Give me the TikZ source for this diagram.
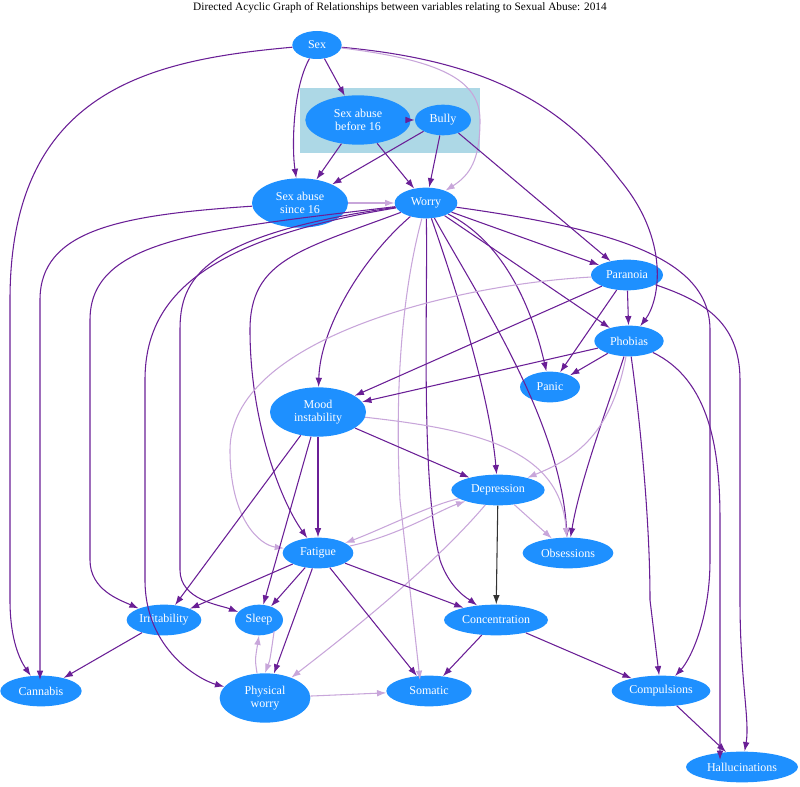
\documentclass[tikz,border=0pt]{standalone}
\usepackage{fontspec}
\setmainfont{Liberation Serif}
\usetikzlibrary{shapes.geometric,arrows.meta}
\definecolor{nd}{HTML}{1E90FF}
\definecolor{dk}{HTML}{6A1F96}
\definecolor{lt}{HTML}{C8A6DA}
\definecolor{cl}{HTML}{ADD8E6}
\tikzset{
 n/.style={ellipse,fill=nd,text=white,font=\fontsize{9}{10}\selectfont,align=center,inner sep=1pt},
 e/.style={draw=dk,thick,-{Latex[length=7pt,width=5pt]}},
 l/.style={draw=lt,thick,-{Latex[length=7pt,width=5pt]}},
}
\begin{document}
\begin{tikzpicture}[x=0.75pt,y=-0.75pt]
\useasboundingbox (0,0) rectangle (800,787);
\fill[cl] (300,88) rectangle (480,153);
\node[font=\fontsize{8.5}{9}\selectfont] (title) at (400,8) {Directed Acyclic Graph of Relationships between variables relating to Sexual Abuse: 2014};
\node[n,minimum width=37pt,minimum height=21pt] (sex) at (317,45) {Sex};
\node[n,minimum width=79pt,minimum height=37pt] (sa16) at (358,120) {Sex abuse\\before 16};
\node[n,minimum width=42pt,minimum height=23pt] (bully) at (443,120) {Bully};
\node[n,minimum width=72pt,minimum height=37pt] (sas16) at (300,203) {Sex abuse\\since 16};
\node[n,minimum width=47pt,minimum height=23pt] (worry) at (426,203) {Worry};
\node[n,minimum width=54pt,minimum height=23pt] (par) at (627,275) {Paranoia};
\node[n,minimum width=52pt,minimum height=23pt] (pho) at (629,341) {Phobias};
\node[n,minimum width=72pt,minimum height=37pt] (mood) at (318,412) {Mood\\instability};
\node[n,minimum width=45pt,minimum height=23pt] (panic) at (550,387) {Panic};
\node[n,minimum width=70pt,minimum height=23pt] (dep) at (498,490) {Depression};
\node[n,minimum width=53pt,minimum height=23pt] (fat) at (318,553) {Fatigue};
\node[n,minimum width=68pt,minimum height=23pt] (obs) at (568,553) {Obsessions};
\node[n,minimum width=56pt,minimum height=23pt] (irr) at (164,620) {Irritability};
\node[n,minimum width=36pt,minimum height=23pt] (sleep) at (259,620) {Sleep};
\node[n,minimum width=78pt,minimum height=23pt] (conc) at (496,620) {Concentration};
\node[n,minimum width=61pt,minimum height=23pt] (can) at (41,691) {Cannabis};
\node[n,minimum width=68pt,minimum height=37pt] (pw) at (265,698) {Physical\\worry};
\node[n,minimum width=64pt,minimum height=23pt] (som) at (429,691) {Somatic};
\node[n,minimum width=74pt,minimum height=23pt] (comp) at (661,691) {Compulsions};
\node[n,minimum width=84pt,minimum height=23pt] (hal) at (742,767) {Hallucinations};

\draw[e] (sex) -- (sa16);
\draw[e] (sex) .. controls (292,90) and (292,150) .. (sas16);
\draw[e] (sex) .. controls (150,60) and (10,90) .. (10,300) -- (10,600) .. controls (10,640) and (20,660) .. (can);
\draw[e] (sex) .. controls (480,60) and (560,100) .. (620,180) .. controls (670,240) and (660,300) .. (pho);
\draw[l] (sex) .. controls (440,60) and (480,80) .. (480,120) .. controls (480,160) and (470,175) .. (worry);
\draw[e] (sa16) -- (bully);
\draw[e] (sa16) -- (sas16);
\draw[e] (sa16) -- (worry);
\draw[e] (bully) -- (sas16);
\draw[e] (bully) -- (worry);
\draw[e] (bully) -- (par);
\draw[l] (sas16) -- (worry);
\draw[e] (sas16) .. controls (120,215) and (40,230) .. (40,300) -- (40,680);
\draw[e] (worry) -- (par);
\draw[e] (worry) -- (pho);
\draw[e] (worry) .. controls (360,260) and (320,330) .. (mood);
\draw[e] (worry) .. controls (500,240) and (530,300) .. (panic);
\draw[e] (worry) .. controls (460,300) and (490,400) .. (dep);
\draw[e] (worry) .. controls (480,300) and (560,420) .. (obs);
\draw[e] (worry) .. controls (300,250) and (250,260) .. (250,330) .. controls (250,420) and (280,500) .. (fat);
\draw[e] (worry) .. controls (200,230) and (90,240) .. (90,320) -- (90,560) .. controls (90,590) and (120,600) .. (irr);
\draw[e] (worry) .. controls (200,235) and (180,280) .. (180,330) -- (180,570) .. controls (180,600) and (220,605) .. (sleep);
\draw[e] (worry) .. controls (200,240) and (145,300) .. (145,380) -- (145,580) .. controls (145,650) and (200,680) .. (pw);
\draw[l] (worry) .. controls (400,300) and (395,400) .. (400,500) -- (420,680);
\draw[e] (worry) .. controls (428,300) and (420,480) .. (440,560) .. controls (450,590) and (470,600) .. (conc);
\draw[e] (worry) .. controls (620,230) and (710,260) .. (710,330) -- (710,560) .. controls (710,620) and (690,660) .. (comp);
\draw[e] (par) -- (pho);
\draw[e] (par) -- (mood);
\draw[e] (par) -- (panic);
\draw[e] (par) .. controls (700,300) and (740,320) .. (740,380) -- (740,600) .. controls (740,680) and (750,720) .. (hal);
\draw[l] (par) .. controls (450,285) and (230,340) .. (230,450) .. controls (230,520) and (260,545) .. (fat);
\draw[e] (pho) -- (mood);
\draw[e] (pho) -- (panic);
\draw[e] (pho) .. controls (610,400) and (580,480) .. (obs);
\draw[e] (pho) .. controls (640,420) and (650,520) .. (650,600) -- (comp);
\draw[e] (pho) .. controls (710,380) and (720,450) .. (720,520) -- (720,760);
\draw[l] (pho) .. controls (610,440) and (570,460) .. (dep);
\draw[e] (mood) -- (dep);
\draw[e] (mood) -- (fat);
\draw[e] (mood) -- (irr);
\draw[e] (mood) -- (sleep);
\draw[l] (mood) .. controls (480,430) and (560,450) .. (obs);
\draw[l] (dep) .. controls (430,505) and (380,530) .. (fat);
\draw[l] (fat) .. controls (400,535) and (440,510) .. (dep);
\draw[l] (dep) -- (obs);
\draw[draw=black!80,thick,-{Latex[length=7pt,width=5pt]}] (dep) -- (conc);
\draw[l] (dep) .. controls (430,570) and (340,640) .. (pw);
\draw[e] (fat) -- (irr);
\draw[e] (fat) -- (sleep);
\draw[e] (fat) -- (pw);
\draw[e] (fat) -- (som);
\draw[e] (fat) -- (conc);
\draw[e] (irr) -- (can);
\draw[l] (sleep.south east) ++(-2,0) .. controls (270,660) .. (pw.north) ;
\draw[l] (pw.north) ++(-8,0) .. controls (255,660) .. (sleep.south);
\draw[l] (pw) -- (som);
\draw[e] (conc) -- (som);
\draw[e] (conc) -- (comp);
\draw[e] (comp) -- (hal);
\end{tikzpicture}
\end{document}
